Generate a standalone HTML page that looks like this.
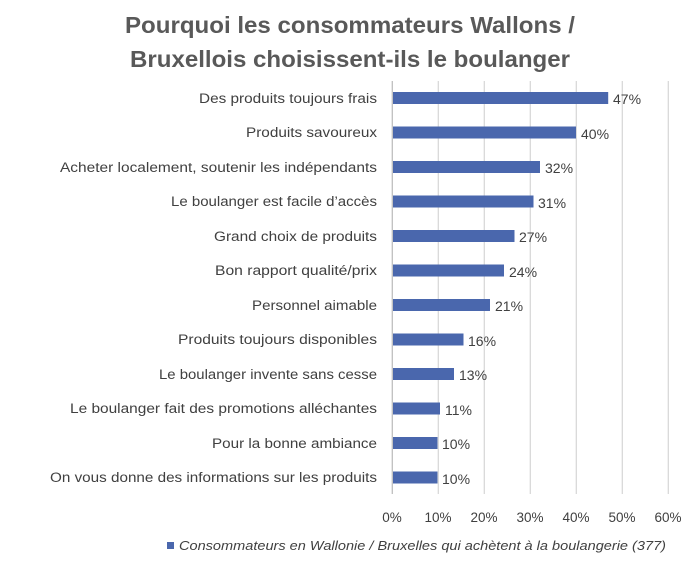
<!DOCTYPE html>
<html><head><meta charset="utf-8"><style>
body{margin:0;background:#fff;width:700px;height:564px;overflow:hidden;font-family:"Liberation Sans",sans-serif}
</style></head><body>
<svg width="700" height="564" xmlns="http://www.w3.org/2000/svg" font-family="Liberation Sans, sans-serif">
<text x="350" y="33" text-anchor="middle" font-size="23" font-weight="bold" fill="#595959" textLength="450" lengthAdjust="spacingAndGlyphs">Pourquoi les consommateurs Wallons /</text>
<text x="350" y="67" text-anchor="middle" font-size="23" font-weight="bold" fill="#595959" textLength="440" lengthAdjust="spacingAndGlyphs">Bruxellois choisissent-ils le boulanger</text>
<g stroke="#d9d9d9" stroke-width="1.3">
<line x1="438.3" y1="81" x2="438.3" y2="494"/><line x1="484.3" y1="81" x2="484.3" y2="494"/>
<line x1="530.3" y1="81" x2="530.3" y2="494"/><line x1="576.3" y1="81" x2="576.3" y2="494"/>
<line x1="622.3" y1="81" x2="622.3" y2="494"/><line x1="668.3" y1="81" x2="668.3" y2="494"/>
</g>
<line x1="392.3" y1="81" x2="392.3" y2="494" stroke="#bfbfbf" stroke-width="1.3"/>
<g fill="#4a67ad">
<rect x="393" y="92" width="215.2" height="12"/>
<rect x="393" y="126.5" width="183" height="12"/>
<rect x="393" y="161" width="147" height="12"/>
<rect x="393" y="195.5" width="140.5" height="12"/>
<rect x="393" y="230" width="121.5" height="12"/>
<rect x="393" y="264.5" width="111" height="12"/>
<rect x="393" y="299" width="97" height="12"/>
<rect x="393" y="333.5" width="70.5" height="12"/>
<rect x="393" y="368" width="61" height="12"/>
<rect x="393" y="402.5" width="47" height="12"/>
<rect x="393" y="437" width="44.5" height="12"/>
<rect x="393" y="471.5" width="44.5" height="12"/>
</g>
<g font-size="14" fill="#404040">
<text x="613" y="104">47%</text><text x="581" y="139">40%</text><text x="545" y="173">32%</text>
<text x="538" y="208">31%</text><text x="519" y="242">27%</text><text x="509" y="277">24%</text>
<text x="495" y="311">21%</text><text x="468" y="346">16%</text><text x="459" y="380">13%</text>
<text x="445" y="415">11%</text><text x="442" y="449">10%</text><text x="442" y="484">10%</text>
</g>
<g font-size="13.5" fill="#404040" lengthAdjust="spacingAndGlyphs">
<text x="199" y="103" textLength="178" lengthAdjust="spacingAndGlyphs">Des produits toujours frais</text>
<text x="246" y="137" textLength="131" lengthAdjust="spacingAndGlyphs">Produits savoureux</text>
<text x="60" y="172" textLength="317" lengthAdjust="spacingAndGlyphs">Acheter localement, soutenir les indépendants</text>
<text x="171" y="206" textLength="206" lengthAdjust="spacingAndGlyphs">Le boulanger est facile d’accès</text>
<text x="214" y="241" textLength="163" lengthAdjust="spacingAndGlyphs">Grand choix de produits</text>
<text x="215" y="275" textLength="162" lengthAdjust="spacingAndGlyphs">Bon rapport qualité/prix</text>
<text x="252" y="310" textLength="125" lengthAdjust="spacingAndGlyphs">Personnel aimable</text>
<text x="178" y="344" textLength="199" lengthAdjust="spacingAndGlyphs">Produits toujours disponibles</text>
<text x="159" y="379" textLength="218" lengthAdjust="spacingAndGlyphs">Le boulanger invente sans cesse</text>
<text x="70" y="413" textLength="307" lengthAdjust="spacingAndGlyphs">Le boulanger fait des promotions alléchantes</text>
<text x="212" y="448" textLength="165" lengthAdjust="spacingAndGlyphs">Pour la bonne ambiance</text>
<text x="50" y="482" textLength="327" lengthAdjust="spacingAndGlyphs">On vous donne des informations sur les produits</text>
</g>
<g font-size="13.5" fill="#404040" text-anchor="middle">
<text x="392" y="522">0%</text><text x="438" y="522">10%</text><text x="484" y="522">20%</text>
<text x="530" y="522">30%</text><text x="576" y="522">40%</text><text x="622" y="522">50%</text><text x="668" y="522">60%</text>
</g>
<rect x="167" y="542" width="7" height="7" fill="#4a67ad"/>
<text x="179" y="550" font-size="13" font-style="italic" fill="#404040" textLength="487" lengthAdjust="spacingAndGlyphs">Consommateurs en Wallonie / Bruxelles qui achètent à la boulangerie (377)</text>
</svg>
</body></html>
